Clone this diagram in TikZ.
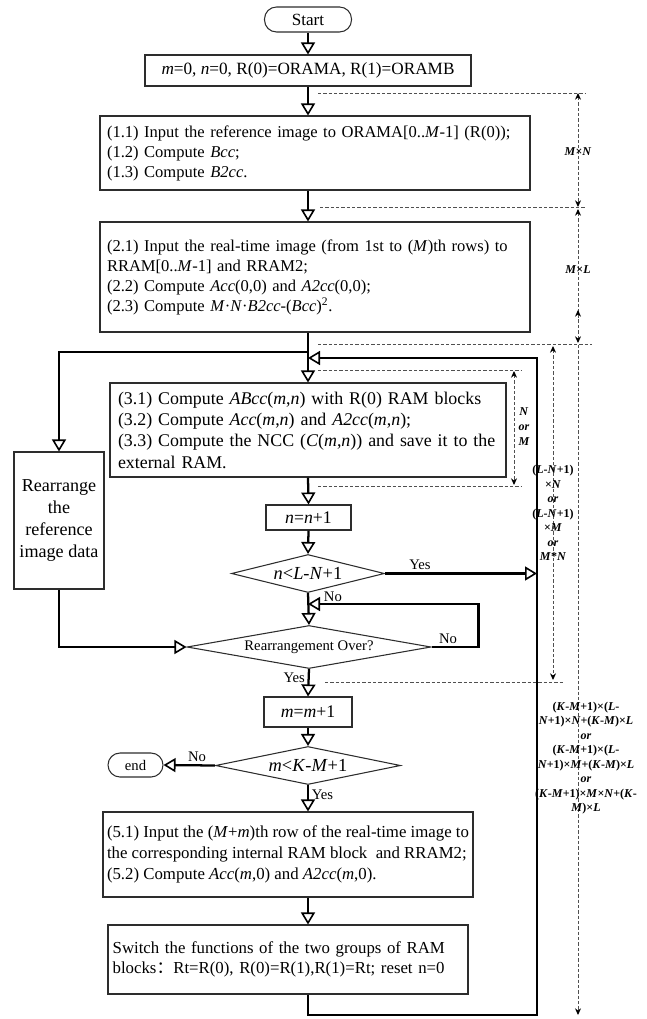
\documentclass[tikz,border=0pt]{standalone}
\usepackage{fontspec}
\setmainfont{Liberation Serif}
\newfontfamily\cjkfont{Noto Sans CJK SC}
\usetikzlibrary{arrows.meta,shapes.geometric}

\tikzset{every picture/.style={line width=0.75pt}}
\tikzset{
  procbox/.style={draw={rgb, 255:red, 45; green, 45; blue, 45}, line width=0.8pt, inner ysep=0pt, inner xsep=5pt, align=left},
  termbox/.style={draw={rgb, 255:red, 45; green, 45; blue, 45}, line width=0.8pt, rounded corners=9pt, inner sep=0pt},
  decision/.style={draw={rgb, 255:red, 45; green, 45; blue, 45}, line width=0.8pt, diamond, aspect=4, inner sep=0pt},
  flow/.style={line width=1.7pt, -{Triangle[fill=white, length=9pt, width=10.5pt, line width=1.2pt]}},
  dimline/.style={draw={rgb, 255:red, 80; green, 80; blue, 80}, line width=0.7pt, dash pattern=on 2.5pt off 1.5pt},
  dimarrow/.style={dimline, {Stealth[black, length=5pt, width=4.5pt]}-{Stealth[black, length=5pt, width=4.5pt]}},
  dimtext/.style={font=\fontsize{9}{10.9}\selectfont\bfseries, align=center, inner sep=0pt},
  flowtext/.style={font=\fontsize{11}{13}\selectfont, inner sep=2pt},
}

\begin{document}
\begin{tikzpicture}[x=0.75pt,y=0.75pt,yscale=-1,xscale=1]
    \useasboundingbox (0,0) rectangle (646,1019);

    %Flowchart: Terminator
    \node [termbox, minimum width=65.25pt, minimum height=18.75pt, font=\fontsize{12.8}{14}\selectfont] (start) at (308,19.5) {Start};
    %Flowchart: Process
    \node [procbox, minimum width=244.5pt, minimum height=23.25pt, font=\fontsize{12.9}{15}\selectfont] (init) at (308,70.5) {\textit{m}=0, \textit{n}=0, R(0)=ORAMA, R(1)=ORAMB};
    %Flowchart: Process
    \node [procbox, text width=312pt, inner xsep=5.25pt, minimum height=55.5pt, font=\fontsize{12.4}{15}\selectfont] (ref) at (315,153) {(1.1) Input the reference image to ORAMA[0..\textit{M}-1] (R(0));\\(1.2) Compute \textit{Bcc};\\(1.3) Compute \textit{B2cc}.};
    %Flowchart: Process
    \node [procbox, text width=312pt, inner xsep=5.25pt, minimum height=82.5pt, font=\fontsize{12.4}{15}\selectfont] (rtim) at (315,277) {(2.1) Input the real-time image (from 1st to (\textit{M})th rows) to\\RRAM[0..\textit{M}-1] and RRAM2;\\(2.2) Compute \textit{Acc}(0,0) and \textit{A2cc}(0,0);\\(2.3) Compute \textit{M}·\textit{N}·\textit{B2cc}-(\textit{Bcc})\textsuperscript{2}.};
    %Flowchart: Process
    \node [procbox, text width=285pt, inner xsep=6pt, minimum height=70.5pt, font=\fontsize{13.4}{16}\selectfont] (ncc) at (308,430) {(3.1) Compute \textit{ABcc}(\textit{m},\textit{n}) with R(0) RAM blocks\\(3.2) Compute \textit{Acc}(\textit{m},\textit{n}) and \textit{A2cc}(\textit{m},\textit{n});\\(3.3) Compute the NCC (\textit{C}(\textit{m},\textit{n})) and save it to the\\external RAM.};
    %Flowchart: Process
    \node [procbox, align=center, inner xsep=3pt, minimum width=67.5pt, minimum height=102.75pt, font=\fontsize{13.6}{16.5}\selectfont] (rearr) at (59,520.5) {Rearrange\\the\\reference\\image data};
    %Flowchart: Process
    \node [procbox, minimum width=63.75pt, minimum height=18.75pt, font=\fontsize{13.3}{15}\selectfont] (incn) at (308.5,517.5) {\textit{n}=\textit{n}+1};
    %Flowchart: Decision
    \node [decision, minimum width=114.75pt, minimum height=28.5pt, font=\fontsize{13.8}{15}\selectfont] (dn) at (308,573.5) {\makebox[0pt]{\textit{n}<\textit{L}-\textit{N}+1}};
    %Flowchart: Decision
    \node [decision, minimum width=183pt, minimum height=32.25pt, font=\fontsize{11}{13}\selectfont] (dre) at (309,647) {\makebox[0pt]{Rearrangement Over?}};
    %Flowchart: Process
    \node [procbox, minimum width=66pt, minimum height=22.5pt, font=\fontsize{13.3}{15}\selectfont] (incm) at (308,712) {\textit{m}=\textit{m}+1};
    %Flowchart: Decision
    \node [decision, minimum width=138.75pt, minimum height=28.5pt, font=\fontsize{13.8}{15}\selectfont] (dm) at (308,765.5) {\makebox[0pt]{\textit{m}<\textit{K}-\textit{M}+1}};
    %Flowchart: Terminator
    \node [termbox, minimum width=41.25pt, minimum height=18pt, font=\fontsize{11}{13}\selectfont] (endnode) at (135.5,765) {end};
    %Flowchart: Process
    \node [procbox, inner xsep=3pt, minimum width=270pt, minimum height=63.75pt, font=\fontsize{12.6}{15.5}\selectfont] (upd) at (288,854.5) {(5.1) Input the (\textit{M}+\textit{m})th row of the real-time image to\\the corresponding internal RAM block\ \ and RRAM2;\\(5.2) Compute \textit{Acc}(\textit{m},0) and \textit{A2cc}(\textit{m},0).};
    %Flowchart: Process
    \node [procbox, text width=263pt, inner xsep=3.5pt, minimum height=51.75pt, font=\fontsize{12.6}{15.5}\selectfont] (swp) at (288,959.5) {Switch the functions of the two groups of RAM\\blocks{\cjkfont ：}Rt=R(0), R(0)=R(1),R(1)=Rt; reset n=0};

    % joints on the main column and the return loop
    \coordinate (split) at (308,352);
    \coordinate (fb) at (308,358);
    \coordinate (fb2) at (308,604);
    \coordinate (loopr) at (537,1015);

    %Straight Lines
    \draw [flow] (start.south) -- (init.north);
    \draw [flow] (init.south) -- (init.south |- ref.north);
    \draw [flow] (init.south |- ref.south) -- (init.south |- rtim.north);
    \draw [flow] (init.south |- rtim.south) -- (ncc.north);
    \draw [flow] (split) -| (rearr.north);
    \draw [flow] (ncc.south) -- (incn.north);
    \draw [flow] (incn.south) -- (dn.north);
    \draw [flow] (dn.east) -- (dn.east -| loopr) node [flowtext, pos=0.23, above] {Yes};
    \draw [flow] (dn.south) -- (dre.north) node [flowtext, pos=0.12, anchor=west, xshift=9pt] {No};
    \draw [flow] (dre.east) -- ++(47,0) node [flowtext, pos=0.35, above] {No} |- (fb2);
    \draw [flow] (rearr.south) |- (dre.west);
    \draw [flow] (dre.south) -- (incm.north) node [flowtext, pos=0.3, left] {Yes};
    \draw [flow] (incm.south) -- (dm.north);
    \draw [flow] (dm.west) -- (endnode.east) node [flowtext, pos=0.35, above] {No};
    \draw [flow] (dm.south) -- (dm.south |- upd.north) node [flowtext, pos=0.35, right] {Yes};
    \draw [flow] (dm.south |- upd.south) -- (dm.south |- swp.north);
    %Return loop
    \draw [flow] (ncc.south |- swp.south) |- (loopr) |- (fb);

    %Dashed Lines
    \draw [dimline] (318,93) -- (585,93);
    \draw [dimline] (320,207) -- (585,207);
    \draw [dimline] (318,344) -- (592,344);
    \draw [dimline] (318,370) -- (522,370);
    \draw [dimline] (318,486) -- (522,486);
    \draw [dimline] (325,682) -- (565,682);

    %Dimension Arrows
    \draw [dimarrow] (578,93) -- (578,207);
    \draw [dimarrow] (578,209) -- (578,343);
    \draw [dimline, -{Stealth[black, length=5pt, width=4.5pt]}] (578,322) -- (578,310);
    \draw [dimline, -{Stealth[black, length=5pt, width=4.5pt]}] (578,345) -- (578,1015);
    \draw [dimarrow] (553,346) -- (553,680);
    \draw [dimarrow] (514,371) -- (514,485);

    % Text Node
    \node [dimtext] (dmn) at (578,152) {\textit{M}×\textit{N}};
    \node [dimtext] (dml) at (578,270) {\textit{M}×\textit{L}};
    \node [dimtext, font=\fontsize{9}{11.2}\selectfont\bfseries] (dnm) at (524,427) {\textit{N}\\\textit{or}\\\textit{M}};
    \node [dimtext] (dln) at (553,513) {(\textit{L}-\textit{N}+1)\\×\textit{N}\\\textit{or}\\(\textit{L}-\textit{N}+1)\\×\textit{M}\\\textit{or}\\\textit{M}*\textit{N}};
    \node [dimtext] (dkm) at (586,758) {(\textit{K}-\textit{M}+1)×(\textit{L}-\\\textit{N}+1)×\textit{N}+(\textit{K}-\textit{M})×\textit{L}\\\textit{or}\\(\textit{K}-\textit{M}+1)×(\textit{L}-\\\textit{N}+1)×\textit{M}+(\textit{K}-\textit{M})×\textit{L}\\\textit{or}\\(\textit{K}-\textit{M}+1)×\textit{M}×\textit{N}+(\textit{K}-\\\textit{M})×\textit{L}};

\end{tikzpicture}
\end{document}
